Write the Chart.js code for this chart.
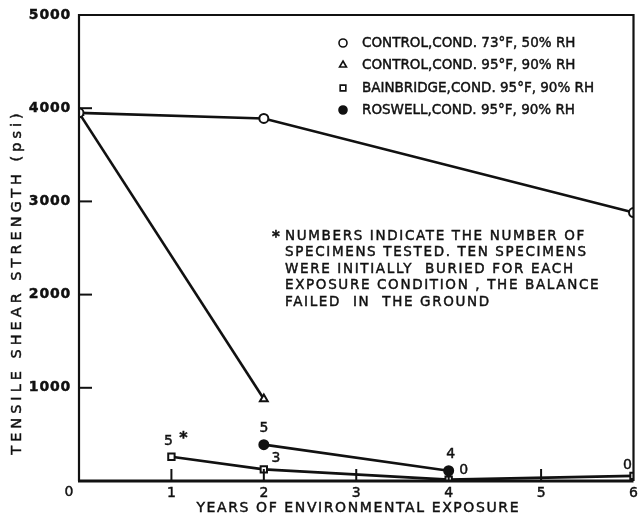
<!DOCTYPE html>
<html>
<head>
<meta charset="utf-8">
<script src="https://cdn.jsdelivr.net/npm/chart.js@4.4.1/dist/chart.umd.min.js"></script>
<style>
  html, body { margin: 0; padding: 0; background: #fff; }
  #wrap { width: 640px; height: 518px; position: relative; }
</style>
</head>
<body>
<div id="wrap"><canvas id="myChart" width="640" height="518"></canvas></div>
<script>
// years of exposure and strength (psi) for each condition
const control73Years = [0, 2, 6];
const control73Psi = [3950, 3890, 2880];
const control95Years = [0, 2];
const control95Psi = [3950, 880];
const bainbridgeYears = [1, 2, 4, 6];
const bainbridgePsi = [260, 125, 15, 55];
const roswellYears = [2, 4];
const roswellPsi = [390, 110];

const seriesNames = [
    'CONTROL,COND. 73°F, 50% RH',
    'CONTROL,COND. 95°F, 90% RH',
    'BAINBRIDGE,COND. 95°F, 90% RH',
    'ROSWELL,COND. 95°F, 90% RH'
];

const xTicks = [0, 1, 2, 3, 4, 5, 6];
const yTicks = [0, 1000, 2000, 3000, 4000, 5000];

// specimen counts written next to points: [dataset, point, text]
const specimenCounts = [
    [2, 0, '5'],
    [2, 1, '3'],
    [3, 0, '5'],
    [3, 1, '4'],
    [2, 2, '0'],
    [2, 3, '0']
];

const noteLines = [
    'NUMBERS INDICATE THE NUMBER OF',
    'SPECIMENS TESTED. TEN SPECIMENS',
    'WERE INITIALLY  BURIED FOR EACH',
    'EXPOSURE CONDITION , THE BALANCE',
    'FAILED  IN  THE GROUND'
];

const ink = '#111';
const font = '"DejaVu Sans", sans-serif';

const pts = (xs, ys) => xs.map((x, i) => ({ x: x, y: ys[i] }));

function series(label, data, style, fill) {
    return {
        label: label,
        data: data,
        showLine: true,
        borderColor: ink,
        borderWidth: 2.6,
        backgroundColor: fill,
        pointStyle: style,
        pointRadius: 4.5,
        pointBorderWidth: 2,
        pointBorderColor: ink,
        pointBackgroundColor: fill,
        tension: 0
    };
}

// heavier text, a touch of stroke on top of the fill
function text(c, s, x, y, size, spacing, bold) {
    c.font = (bold ? 'bold ' : '') + size + 'px ' + font;
    c.letterSpacing = (spacing || 0) + 'px';
    c.fillText(s, x, y);
    c.lineWidth = 0.45;
    c.strokeText(s, x, y);
}

// placement of count labels relative to their point
const countOffset = {
    '2,0': [-3, -15], '2,1': [12, -11], '3,0': [0, -16],
    '3,1': [2, -16], '2,2': [15, -9], '2,3': [-6, -11]
};

const extras = {
    id: 'extras',
    afterDatasetsDraw(chart) {
        const c = chart.ctx;
        const xs = chart.scales.x, ys = chart.scales.y;
        const area = chart.chartArea;
        c.save();
        c.strokeStyle = ink;
        c.fillStyle = ink;
        c.lineWidth = 2.2;
        // frame
        c.beginPath();
        c.moveTo(area.left, area.bottom);
        c.lineTo(area.left, area.top);
        c.lineTo(area.right, area.top);
        c.lineTo(area.right, area.bottom);
        c.stroke();
        c.lineWidth = 3;
        c.beginPath(); c.moveTo(area.left - 1, area.bottom); c.lineTo(area.right, area.bottom); c.stroke();
        c.lineWidth = 2;
        // inward ticks
        xTicks.slice(1, -1).forEach(v => {
            const px = xs.getPixelForValue(v);
            c.beginPath(); c.moveTo(px, area.bottom); c.lineTo(px, area.bottom - 12); c.stroke();
        });
        yTicks.slice(1, -1).forEach(v => {
            const py = ys.getPixelForValue(v);
            c.beginPath(); c.moveTo(area.left, py); c.lineTo(area.left + 13, py); c.stroke();
        });

        // tick labels
        c.textBaseline = 'middle';
        c.textAlign = 'right';
        yTicks.slice(1).forEach(v => text(c, String(v), area.left - 8, ys.getPixelForValue(v), 14, 0.8, true));
        c.textAlign = 'center';
        text(c, '0', area.left - 10, ys.getPixelForValue(0) + 11, 14, 0, false);
        xTicks.slice(1).forEach(v => text(c, String(v), xs.getPixelForValue(v), area.bottom + 12, 14, 0, false));

        // axis titles
        text(c, 'YEARS OF ENVIRONMENTAL EXPOSURE', (area.left + area.right) / 2 + 2, 508, 14, 1.6, false);
        c.save();
        c.translate(17, (area.top + area.bottom) / 2 + 34);
        c.rotate(-Math.PI / 2);
        text(c, 'TENSILE SHEAR STRENGTH (psi)', 0, 0, 14.5, 4, false);
        c.restore();

        // specimen counts
        specimenCounts.forEach(([d, i, t]) => {
            const p = chart.getDatasetMeta(d).data[i];
            const off = countOffset[d + ',' + i];
            text(c, t, p.x + off[0], p.y + off[1], 14, 0, false);
        });
        const first = chart.getDatasetMeta(2).data[0];
        text(c, '*', first.x + 12, first.y - 18, 16, 0, true);

        // legend
        const lx = 343, ly = [43, 65, 88, 110];
        const styles = ['circle', 'triangle', 'rect', 'circle'];
        const fills = ['#fff', '#fff', '#fff', ink];
        c.textAlign = 'left';
        seriesNames.forEach((n, i) => {
            c.lineWidth = 1.6;
            c.fillStyle = fills[i];
            Chart.helpers.drawPoint(c, { pointStyle: styles[i], radius: 4, borderWidth: 1.6 }, lx, ly[i]);
            c.fillStyle = ink;
            text(c, n, lx + 19, ly[i], 13.5, 0, false);
        });

        // note
        text(c, '*', 272, 238, 15, 0, true);
        noteLines.forEach((l, i) => text(c, l, 285, 236 + i * 16.6, 13.5, 1.65, false));
        c.restore();
    }
};

const ctx = document.getElementById('myChart').getContext('2d');
const myChart = new Chart(ctx, {
    type: 'scatter',
    data: {
        datasets: [
            series(seriesNames[0], pts(control73Years, control73Psi), 'circle', '#fff'),
            series(seriesNames[1], pts(control95Years, control95Psi), 'triangle', '#fff'),
            series(seriesNames[2], pts(bainbridgeYears, bainbridgePsi), 'rect', '#fff'),
            series(seriesNames[3], pts(roswellYears, roswellPsi), 'circle', ink)
        ]
    },
    options: {
        responsive: false,
        animation: false,
        layout: { padding: { top: 15, right: 3, left: 79, bottom: 37 } },
        plugins: { legend: { display: false }, tooltip: { enabled: false } },
        scales: {
            x: { type: 'linear', min: 0, max: 6, display: false },
            y: { min: 0, max: 5000, display: false }
        }
    },
    plugins: [extras]
});
</script>
</body>
</html>
